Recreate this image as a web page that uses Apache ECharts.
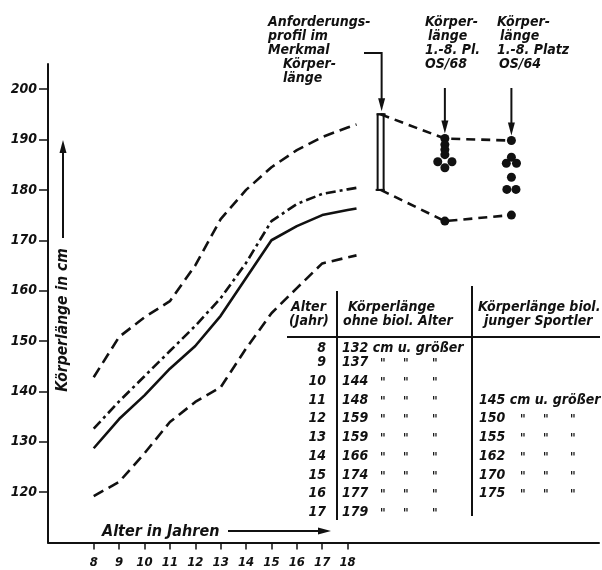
<!DOCTYPE html>
<html><head><meta charset="utf-8">
<script src="https://cdn.jsdelivr.net/npm/echarts@6/dist/echarts.min.js"></script>
<style>html,body{margin:0;padding:0;background:#fff}#c{width:602px;height:570px}</style>
</head><body><div id="c"></div>
<script>
// ---- data ----
const ages = [8, 9, 10, 11, 12, 13, 14, 15, 16, 17, 18, 18.35];
const upperDashed = [142.8, 150.8, 154.7, 157.9, 165.0, 174.2, 180.0, 184.5, 187.9, 190.5, 192.4, 193.0];
const dashDot     = [132.6, 138.0, 143.0, 148.0, 153.0, 158.5, 165.5, 173.8, 177.2, 179.2, 180.1, 180.4];
const solid       = [128.7, 134.5, 139.2, 144.5, 149.0, 155.0, 162.5, 170.0, 172.8, 175.0, 176.0, 176.3];
const lowerDashed = [119.2, 122.0, 127.7, 133.9, 137.9, 140.8, 148.5, 155.5, 160.5, 165.4, 166.6, 167.0];
const xTicks = [8, 9, 10, 11, 12, 13, 14, 15, 16, 17, 18];
const yTicks = [120, 130, 140, 150, 160, 170, 180, 190, 200];
const profileX = 19.3;
const profileRange = [180, 195];
const linkX = [19.3, 21.83, 24.45];
const upperLink = [195, 190.2, 189.8];
const lowerLink = [180, 173.8, 175.0];
const os68 = [[21.83,190.2],[21.83,189.0],[21.83,188.0],[21.83,187.0],[21.55,185.6],[22.11,185.6],[21.83,184.4],[21.83,173.8]];
const os64 = [[24.45,189.8],[24.45,186.5],[24.25,185.3],[24.65,185.3],[24.45,182.5],[24.27,180.1],[24.63,180.1],[24.45,175.0]];
const tableAges  = ['8','9','10','11','12','13','14','15','16','17'];
const tableNoBio = ['132 cm u. größer','137','144','148','159','159','166','174','177','179'];
const tableBio   = ['','','','145 cm u. größer','150','155','162','170','175',''];

const FONT = '"DejaVu Sans Condensed","Liberation Sans Narrow",sans-serif';
const INK = '#111';
const chart = echarts.init(document.getElementById('c'), null, {renderer: 'canvas'});

function zip(xs, ys) { return xs.map((x, i) => [x, ys[i]]); }

const lineSeries = (data, type, width) => ({
  type: 'line', data: data, symbol: 'none', silent: true, animation: false,
  lineStyle: {color: INK, width: width || 2.6, type: type, cap: 'butt', opacity: 1}
});

chart.setOption({
  animation: false,
  backgroundColor: '#fff',
  grid: {left: 48, right: 3, top: 64, bottom: 27.6, containLabel: false},
  xAxis: {
    type: 'value', min: 6.2, max: 27.9,
    axisLine: {lineStyle: {color: INK, width: 2}},
    axisTick: {customValues: xTicks, length: 7, lineStyle: {color: INK, width: 1.5}},
    axisLabel: {customValues: xTicks, color: INK, fontSize: 13, fontStyle: 'italic', fontWeight: 'bold', fontFamily: FONT, margin: 14},
    splitLine: {show: false}
  },
  yAxis: {
    type: 'value', min: 110, max: 205,
    axisLine: {show: true, lineStyle: {color: INK, width: 2}},
    axisTick: {show: true, customValues: yTicks, length: 9, lineStyle: {color: INK, width: 1.5}},
    axisLabel: {customValues: yTicks, color: INK, fontSize: 14, fontStyle: 'italic', fontWeight: 'bold', fontFamily: FONT, margin: 11},
    splitLine: {show: false}
  },
  series: [
    lineSeries(zip(ages, upperDashed), [11, 6]),
    lineSeries(zip(ages, dashDot), [10, 4, 3, 4]),
    lineSeries(zip(ages, solid), 'solid'),
    lineSeries(zip(ages, lowerDashed), [11, 6]),
    lineSeries(zip(linkX, upperLink), [9, 6]),
    lineSeries(zip(linkX, lowerLink), [9, 6]),
    {
      type: 'custom', silent: true, animation: false,
      data: [[profileX, profileRange[0], profileRange[1]]],
      renderItem: function (params, api) {
        const top = api.coord([api.value(0), api.value(2)]);
        const bot = api.coord([api.value(0), api.value(1)]);
        return {type: 'group', children: [
          {type: 'rect', shape: {x: top[0] - 3, y: top[1], width: 6, height: bot[1] - top[1]},
           style: {fill: 'none', stroke: INK, lineWidth: 2}},
          {type: 'line', shape: {x1: top[0] - 4, y1: top[1], x2: top[0] + 5, y2: top[1]}, style: {stroke: INK, lineWidth: 2}},
          {type: 'line', shape: {x1: bot[0] - 5, y1: bot[1], x2: bot[0] + 4, y2: bot[1]}, style: {stroke: INK, lineWidth: 2}}
        ]};
      }
    },
    {type: 'scatter', data: os68, symbol: 'circle', symbolSize: 9, itemStyle: {color: INK, opacity: 1}, silent: true, animation: false},
    {type: 'scatter', data: os64, symbol: 'circle', symbolSize: 9, itemStyle: {color: INK, opacity: 1}, silent: true, animation: false}
  ]
});

// ---- annotations ----
function T(text, x, y, extra) {
  return {type: 'text', x: x, y: y, silent: true, z: 10,
    style: Object.assign({text: text, fill: INK, fontSize: 14, fontStyle: 'italic', fontWeight: 'bold', fontFamily: FONT,
      align: 'left', verticalAlign: 'middle'}, extra || {})};
}
function L(x1, y1, x2, y2, w) {
  return {type: 'line', silent: true, z: 10, shape: {x1, y1, x2, y2}, style: {stroke: INK, lineWidth: w || 2}};
}
function headDown(x, y) { // tip at (x,y)
  return {type: 'polygon', silent: true, z: 10, shape: {points: [[x - 3.5, y - 13], [x + 3.5, y - 13], [x, y]]}, style: {fill: INK}};
}
function headUp(x, y) {
  return {type: 'polygon', silent: true, z: 10, shape: {points: [[x - 3.5, y + 13], [x + 3.5, y + 13], [x, y]]}, style: {fill: INK}};
}
function headRight(x, y) {
  return {type: 'polygon', silent: true, z: 10, shape: {points: [[x - 13, y - 3.5], [x - 13, y + 3.5], [x, y]]}, style: {fill: INK}};
}
const px = p => chart.convertToPixel({gridIndex: 0}, p);

const g = [];
// axis titles
g.push(T('Körperlänge in cm', 63, 320, {align: 'center', fontSize: 15.5}));
g[g.length - 1].rotation = Math.PI / 2;
g.push(L(63, 238, 63, 150, 2), headUp(63, 140));
g.push(T('Alter in Jahren', 102, 532, {fontSize: 16}));
g.push(L(228, 531, 320, 531, 2), headRight(331, 531));

// top annotations
[['Anforderungs-', 268, 22], ['profil im', 268, 36], ['Merkmal', 268, 50], ['Körper-', 283, 64], ['länge', 283, 78],
 ['Körper-', 425, 22], ['länge', 428, 36], ['1.-8. Pl.', 425, 50], ['OS/68', 425, 64],
 ['Körper-', 497, 22], ['länge', 500, 36], ['1.-8. Platz', 497, 50], ['OS/64', 499, 64]
].forEach(a => g.push(T(a[0], a[1], a[2])));

const pBar = px([profileX, profileRange[1]]);
g.push(L(364, 53, pBar[0] + 1, 53, 2), L(pBar[0] + 1, 52, pBar[0] + 1, 100, 2), headDown(pBar[0] + 1, pBar[1] - 3));
const p68 = px([os68[0][0], os68[0][1]]);
g.push(L(p68[0], 88, p68[0], 124, 2), headDown(p68[0], p68[1] - 5));
const p64 = px([os64[0][0], os64[0][1]]);
g.push(L(p64[0], 88, p64[0], 124, 2), headDown(p64[0], p64[1] - 5));

// table
g.push(T('Alter', 291, 307), T('(Jahr)', 289, 321));
g.push(T('Körperlänge', 348, 307), T('ohne biol. Alter', 343, 321));
g.push(T('Körperlänge biol.', 478, 307), T('junger Sportler', 484, 321));
g.push(L(287, 337, 600, 337, 2));
g.push(L(337, 291, 337, 520, 2), L(472, 286, 472, 516, 2));
const rowY = [348, 362, 381, 400, 418, 437, 456, 475, 493, 512];
tableAges.forEach((a, i) => {
  g.push(T(a, 326, rowY[i], {align: 'right'}));
  g.push(T(tableNoBio[i], 342, rowY[i]));
  if (i > 0) [380, 403, 432].forEach(x => g.push(T('"', x, rowY[i] + 2, {fontSize: 12})));
  if (tableBio[i]) {
    g.push(T(tableBio[i], 479, rowY[i]));
    if (tableBio[i].length <= 3) [520, 543, 570].forEach(x => g.push(T('"', x, rowY[i] + 2, {fontSize: 12})));
  }
});

chart.setOption({graphic: {elements: g}});
</script></body></html>
